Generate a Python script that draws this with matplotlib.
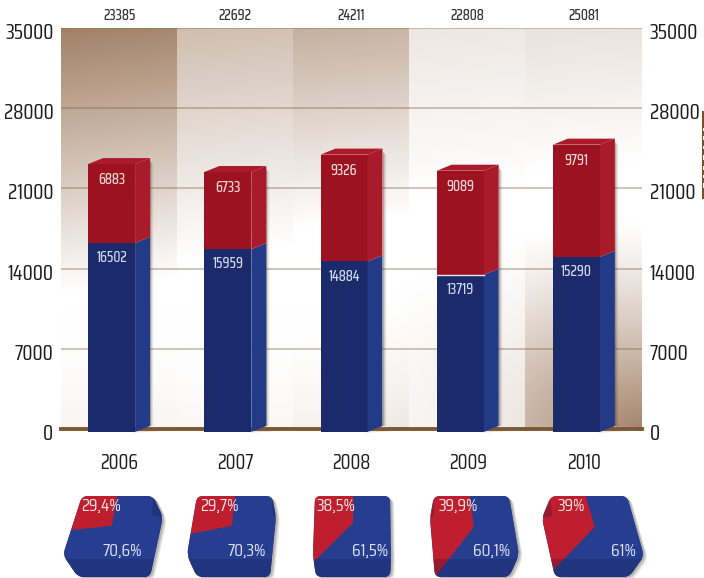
import numpy as np
import matplotlib
matplotlib.use("Agg")
import matplotlib.pyplot as plt
from matplotlib.patches import PathPatch, Rectangle
from matplotlib.path import Path
from matplotlib.transforms import Affine2D, ScaledTranslation

plt.rcParams["font.family"] = ["Saira Condensed", "Barlow Condensed", "Roboto Condensed", "Liberation Sans"]

years = ["2006", "2007", "2008", "2009", "2010"]
blue_vals = [16502, 15959, 14884, 13719, 15290]
red_vals = [6883, 6733, 9326, 9089, 9791]
totals = [23385, 22692, 24211, 22808, 25081]
ticks = [0, 7000, 14000, 21000, 28000, 35000]

# share labels under the bars
red_share = [29.4, 29.7, 38.5, 39.9, 39.0]
blue_share = [70.6, 70.3, 61.5, 60.1, 61.0]
red_labels = ["29,4%", "29,7%", "38,5%", "39,9%", "39%"]
blue_labels = ["70,6%", "70,3%", "61,5%", "60,1%", "61%"]

W, H = 704, 578
fig = plt.figure(figsize=(W / 100, H / 100), dpi=100)
px = Affine2D().scale(1 / W, -1 / H).translate(0, 1) + fig.transFigure  # pixel coords, y down

ax = fig.add_axes([61 / W, 1 - 429 / H, 581 / W, 401 / H])
ax.set_xlim(-0.5, 4.5)
ax.set_ylim(0, 35000)

# background, brown corners fading to white, one strength per band
nx, ny = 581, 401
u, v = np.meshgrid(np.linspace(0, 1, nx), np.linspace(0, 1, ny))
band = np.minimum((u * 5).astype(int), 4)
top_amp = np.array([0.88, 0.48, 0.62, 0.20, 0.26])[band]
low_amp = np.array([0.20, 0.15, 0.28, 0.28, 0.85])[band]
top = np.clip(1 - v / (0.66 - 0.05 * band) - 0.28 * u, 0, 1)
low = np.clip(1 - np.hypot((1 - u) * 1.1, (1 - v) * 1.2) / 0.62, 0, 1) ** 1.2
low = low + 0.35 * np.clip((v - 0.7) / 0.3, 0, 1) ** 2 * (band < 3)
a = np.clip(top * top_amp + low * low_amp, 0, 1)[..., None]
brown = np.array([150, 112, 82]) / 255
ax.imshow(1 - a * (1 - brown), extent=(-0.5, 4.5, 0, 35000), aspect="auto", zorder=0, interpolation="bilinear")

ax.set_yticks(ticks)
ax.set_xticks(range(5))
ax.set_xticklabels(years, fontsize=14.5, color="#1c1c1c")
ax.tick_params(axis="x", length=0, pad=17)
ax.tick_params(axis="y", length=0, labelleft=True, labelright=True, labelsize=15, labelcolor="#1c1c1c", pad=5.5)
for lab in ax.get_yticklabels():
    lab.set_transform(lab.get_transform() + ScaledTranslation(0, -3 / 100, fig.dpi_scale_trans))
ax.grid(axis="y", color="#8a6648", lw=1.2, alpha=0.45, zorder=1)
ax.grid(axis="x", visible=False)
for s in ["top", "left", "right"]:
    ax.spines[s].set_visible(False)
ax.spines["bottom"].set_color("#7d5833")
ax.spines["bottom"].set_linewidth(2.8)
ax.spines["bottom"].set_zorder(2.5)

bw_left = 31 / 116.2
bw_right = 16 / 116.2
depth = 15 / 116.2
drop = 262  # 3 px of the fake perspective, in data units

for i in range(5):
    x0, x1 = i - bw_left, i + bw_right
    b, r, t = blue_vals[i], red_vals[i], totals[i]
    # soft shadow right of the side face
    for k, al in enumerate([0.22, 0.14, 0.07, 0.03]):
        ax.fill_between([x1 + depth, x1 + depth + (k + 1) / 116.2], drop, t + drop - 100 * k - 260,
                        color="#403020", alpha=al, lw=0, zorder=2)
    ax.fill([x1 - 2 / 116.2, x1 + depth + 8 / 116.2, x1 + depth, x1], [-drop - 60, -drop + 60, drop, -drop],
            color="#d8cfc6", alpha=0.6, lw=0, zorder=2, clip_on=False)
    ax.bar(i + (bw_right - bw_left) / 2, b, bottom=-drop, width=bw_left + bw_right,
           color="#1a2a6b", zorder=3, clip_on=False)
    ax.bar(i + (bw_right - bw_left) / 2, t - b, bottom=b - drop, width=bw_left + bw_right,
           color="#9c1221", zorder=3, clip_on=False)
    ax.fill([x1, x1 + depth, x1 + depth, x1], [-drop, drop, b + drop, b - drop], color="#233a86", lw=0, zorder=3, clip_on=False)
    ax.fill([x1, x1 + depth, x1 + depth, x1], [b - drop, b + drop, t + drop, t - drop], color="#a91b2a", lw=0, zorder=3, clip_on=False)
    ax.fill([x0, x1, x1 + depth, x0 + depth], [t - drop, t - drop, t + drop, t + drop], color="#ab1a2b", lw=0, zorder=3, clip_on=False)
    if i == 3:
        ax.plot([x0, x1], [b - drop, b - drop], color="#e8e4ea", lw=1, zorder=4)
    xc = i + (bw_right - bw_left) / 2
    ax.annotate(str(r), (xc, t - drop), xytext=(0, -11.5), textcoords="offset points", ha="center", va="center",
                fontsize=10.5, fontweight=500, color="#efd9d4", zorder=5)
    ax.annotate(str(b), (xc, b - drop), xytext=(0, -11), textcoords="offset points", ha="center", va="center",
                fontsize=10.5, fontweight=500, color="#d3d8e8", zorder=5)
    ax.annotate(str(t), (i, 35000), xytext=(0, 9), textcoords="offset points", ha="center", va="center",
                fontsize=10.5, fontweight=500, color="#333333")

# the cut off strip on the right edge
fig.add_artist(Rectangle((702, 111), 2, 88, transform=px, color="#7b5230", lw=0))
for y0, h in [(128, 3), (136, 4), (146, 3), (155, 5), (166, 4), (175, 3), (183, 5)]:
    fig.add_artist(Rectangle((703, y0), 1, h, transform=px, color="#ffffff", lw=0))


def rounded(pts, r=6):
    # closed polygon with its corners rounded off
    pts = np.array(pts, float)
    verts, codes = [], []
    n = len(pts)
    for k in range(n):
        p, a0, b0 = pts[k], pts[k - 1], pts[(k + 1) % n]
        s = p + (a0 - p) / np.linalg.norm(a0 - p) * r
        e = p + (b0 - p) / np.linalg.norm(b0 - p) * r
        verts += [s, p, e]
        codes += [Path.LINETO if k else Path.MOVETO, Path.CURVE3, Path.CURVE3]
    verts.append(verts[0])
    codes.append(Path.CLOSEPOLY)
    return Path(verts, codes)


outlines = [
    [(82, 496), (153, 496), (163, 517), (150, 577), (78, 577), (63, 555)],
    [(197, 496), (272, 496), (276, 517), (270, 577), (197, 577), (187, 555)],
    [(315, 496), (390, 496), (391, 560), (390, 577), (316, 577), (313, 555)],
    [(434, 496), (509, 496), (519, 555), (509, 577), (435, 577), (430, 518)],
    [(551, 496), (627, 496), (644, 556), (629, 577), (555, 577), (542, 518)],
]
apex = [(112, 526), (232, 526), (353, 523), (474, 527), (595, 527)]
start = [80, 84, 89, 95.5, 100]
xsquash = [1.0, 1.0, 1.1, 1.3, 1.7]
red_pos = [(101, 506), (219, 506), (336, 506), (458, 506), (571, 506)]
blue_pos = [(122, 551), (247, 551), (370, 551), (492, 551), (623, 551)]
folds = [
    [(153, 496), (163, 517), (152, 515)],
    [(272, 496), (276, 517), (273, 515)],
    None,
    [(434, 500), (430, 518), (434, 516)],
    [(551, 500), (542, 518), (552, 516)],
]

for i in range(5):
    shape = rounded(outlines[i])
    for k, al in enumerate([0.10, 0.12, 0.16]):
        off = 4 - k
        fig.add_artist(PathPatch(shape, transform=Affine2D().translate(off, off - 1) + px, fc="#302820", alpha=al, lw=0, zorder=-1))
    cx, cy = apex[i]
    pa = fig.add_axes([0, 0, 1, 1], label="share%d" % i, zorder=3)
    clip = PathPatch(shape, transform=px, fc="#273e90", lw=0)
    pa.add_patch(clip)
    wedges, _ = pa.pie([red_share[i], blue_share[i]], startangle=start[i], colors=["#be1e2d", "#273e90"], radius=150)
    for w in wedges:
        w.set_clip_on(True)
        w.set_clip_path(clip)
    pa.set_aspect("auto")
    pa.set_xlim(-cx / xsquash[i], (W - cx) / xsquash[i])
    pa.set_ylim(-(H - cy), cy)
    pa.patch.set_visible(False)
    pa.axis("off")
    # darker bottom face and folded corner
    low_face = Rectangle((0, 559), W, 19, transform=px, fc="#0c1440", alpha=0.22, lw=0)
    pa.add_patch(low_face)
    low_face.set_clip_path(clip)
    if folds[i]:
        fd = plt.Polygon(folds[i], transform=px, fc="#0c1440", alpha=0.25, lw=0)
        pa.add_patch(fd)
        fd.set_clip_path(clip)
    pa.text(*red_pos[i], red_labels[i], transform=px, ha="center", va="center", fontsize=13, color="#f3e3e3")
    pa.text(*blue_pos[i], blue_labels[i], transform=px, ha="center", va="center", fontsize=13, color="#dde2f0")

fig.savefig("out.png", dpi=100)
